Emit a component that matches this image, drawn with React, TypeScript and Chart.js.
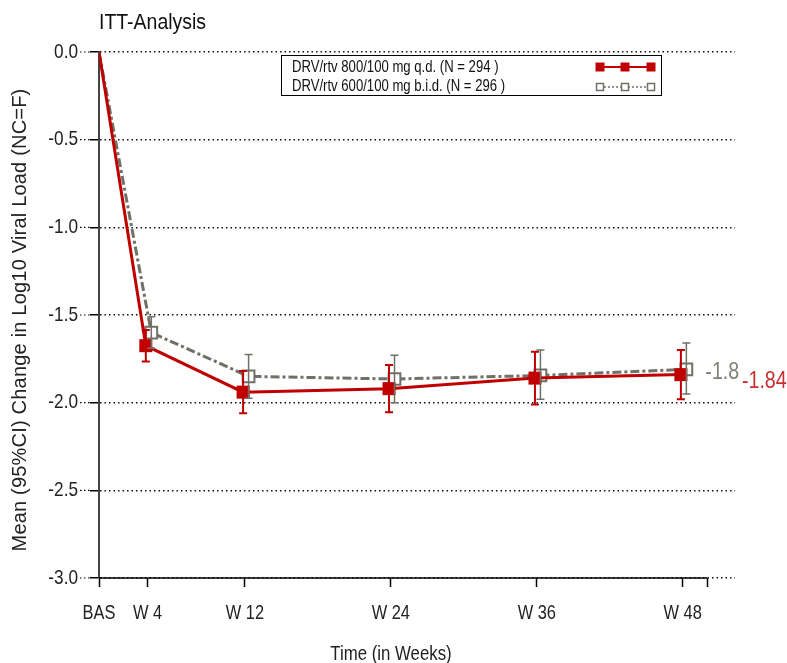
import React, { useEffect, useRef } from 'react';
import { Chart, registerables } from 'chart.js';

Chart.register(...registerables);

const FONT = '"Liberation Sans", Arial, Helvetica, sans-serif';

// ---- data ----
const weeks = [0, 4, 12, 24, 36, 48];
const weekLabels = ['BAS', 'W 4', 'W 12', 'W 24', 'W 36', 'W 48'];
const axisEndWeek = 50;

const qdLabel = 'DRV/rtv 800/100 mg q.d. (N = 294 )';
const qdMean = [0, -1.675, -1.94, -1.92, -1.86, -1.84];
const qdLower = [0, -1.765, -2.06, -2.055, -2.01, -1.98];
const qdUpper = [0, -1.585, -1.82, -1.785, -1.71, -1.70];

const bidLabel = 'DRV/rtv 600/100 mg b.i.d. (N = 296 )';
const bidMean = [0, -1.60, -1.85, -1.865, -1.845, -1.81];
const bidLower = [0, -1.69, -1.975, -2.0, -1.98, -1.95];
const bidUpper = [0, -1.51, -1.725, -1.73, -1.70, -1.66];

const endLabels = ['-1.84', '-1.8'];

const yTickValues = [0, -0.5, -1.0, -1.5, -2.0, -2.5, -3.0];

const RED = '#C00000';
const GRAY = '#707068';

const qdShift = -0.15;
const bidShift = 0.3;

function shiftX(w: number, s: number) {
  return w === 0 ? 0 : w + s;
}

// draws horizontally condensed text (the reference uses a narrow face)
function condText(
  ctx: CanvasRenderingContext2D,
  text: string,
  x: number,
  y: number,
  size: number,
  align: CanvasTextAlign,
  color: string,
  sx = 0.82,
  baseline: CanvasTextBaseline = 'middle'
) {
  ctx.save();
  ctx.translate(x, y);
  ctx.scale(sx, 1);
  ctx.font = `${size}px ${FONT}`;
  ctx.textAlign = align;
  ctx.textBaseline = baseline;
  ctx.fillStyle = color;
  ctx.fillText(text, 0, 0);
  ctx.restore();
}

const customPlugin = {
  id: 'customDraw',
  afterDatasetsDraw(chart: any) {
    const ctx = chart.ctx;
    const xs = chart.scales.x;
    const ys = chart.scales.y;
    const drawBars = (lo: number[], hi: number[], shift: number, color: string, lw: number) => {
      ctx.save();
      ctx.strokeStyle = color;
      ctx.lineWidth = lw;
      weeks.forEach((w, i) => {
        if (i === 0) return;
        const x = xs.getPixelForValue(shiftX(w, shift));
        const y1 = ys.getPixelForValue(lo[i]);
        const y2 = ys.getPixelForValue(hi[i]);
        ctx.beginPath();
        ctx.moveTo(x, y1);
        ctx.lineTo(x, y2);
        ctx.moveTo(x - 4, y1);
        ctx.lineTo(x + 4, y1);
        ctx.moveTo(x - 4, y2);
        ctx.lineTo(x + 4, y2);
        ctx.stroke();
      });
      ctx.restore();
    };
    drawBars(qdLower, qdUpper, qdShift, RED, 2);
    drawBars(bidLower, bidUpper, bidShift, GRAY, 1.5);
  },
  afterDraw(chart: any) {
    const ctx = chart.ctx;
    const xs = chart.scales.x;
    const ys = chart.scales.y;
    const area = chart.chartArea;
    ctx.save();

    // x axis solid line up to week 50
    ctx.strokeStyle = '#000';
    ctx.lineWidth = 1.5;
    ctx.beginPath();
    ctx.moveTo(xs.getPixelForValue(0), area.bottom);
    ctx.lineTo(xs.getPixelForValue(axisEndWeek), area.bottom);
    ctx.stroke();

    // dotted stubs left of y ticks
    ctx.setLineDash([1.5, 2.5]);
    ctx.lineWidth = 1.2;
    yTickValues.forEach((v) => {
      const y = ys.getPixelForValue(v);
      ctx.beginPath();
      ctx.moveTo(80, y);
      ctx.lineTo(area.left - 9, y);
      ctx.stroke();
    });
    ctx.setLineDash([]);

    // tick labels
    yTickValues.forEach((v) => {
      condText(ctx, v.toFixed(1), 78, ys.getPixelForValue(v), 21, 'right', '#222');
    });
    weeks.forEach((w, i) => {
      condText(ctx, weekLabels[i], xs.getPixelForValue(w), 613, 20, 'center', '#222');
    });

    // title
    condText(ctx, 'ITT-Analysis', 99, 28.5, 22, 'left', '#111', 0.885, 'alphabetic');

    // x title
    condText(ctx, 'Time (in Weeks)', 391, 654, 20, 'center', '#222', 0.84);

    // y title
    ctx.save();
    ctx.translate(20, 320);
    ctx.rotate(-Math.PI / 2);
    ctx.font = `20px ${FONT}`;
    ctx.textAlign = 'center';
    ctx.textBaseline = 'middle';
    ctx.fillStyle = '#222';
    (ctx as any).letterSpacing = '0.2px';
    ctx.fillText('Mean (95%CI) Change in Log10 Viral Load (NC=F)', 0, 0);
    ctx.restore();

    // end labels
    const lastI = weeks.length - 1;
    const gx = xs.getPixelForValue(shiftX(weeks[lastI], bidShift));
    const gy = ys.getPixelForValue(bidMean[lastI]);
    condText(ctx, endLabels[1], gx + 19, gy + 3, 24, 'left', '#808078');
    const rx = xs.getPixelForValue(shiftX(weeks[lastI], qdShift));
    const ry = ys.getPixelForValue(qdMean[lastI]);
    condText(ctx, endLabels[0], rx + 61, ry + 7, 24, 'left', '#C83030');

    // legend
    const lx = 281, ly = 55, lw = 380, lh = 40;
    ctx.fillStyle = '#fff';
    ctx.fillRect(lx, ly, lw, lh);
    ctx.strokeStyle = '#000';
    ctx.lineWidth = 1;
    ctx.strokeRect(lx + 0.5, ly + 0.5, lw, lh);
    condText(ctx, qdLabel, 292, 68, 16, 'left', '#111');
    condText(ctx, bidLabel, 292, 87, 16, 'left', '#111');
    const sx = [600, 625, 651];
    // red sample
    ctx.strokeStyle = RED;
    ctx.lineWidth = 2;
    ctx.beginPath();
    ctx.moveTo(sx[0], 67);
    ctx.lineTo(sx[2], 67);
    ctx.stroke();
    ctx.fillStyle = RED;
    sx.forEach((x) => ctx.fillRect(x - 4.5, 67 - 4.5, 9, 9));
    // gray sample
    ctx.strokeStyle = GRAY;
    ctx.lineWidth = 1.5;
    ctx.setLineDash([2, 2]);
    ctx.beginPath();
    ctx.moveTo(sx[0], 87);
    ctx.lineTo(sx[2], 87);
    ctx.stroke();
    ctx.setLineDash([]);
    sx.forEach((x) => {
      ctx.fillStyle = '#fff';
      ctx.fillRect(x - 3.5, 87 - 3.5, 7, 7);
      ctx.strokeRect(x - 3.5, 87 - 3.5, 7, 7);
    });

    ctx.restore();
  },
};

export default function App() {
  const ref = useRef<HTMLCanvasElement | null>(null);
  useEffect(() => {
    if (!ref.current) return;
    const chart = new Chart(ref.current, {
      type: 'line',
      data: {
        datasets: [
          {
            label: qdLabel,
            data: weeks.map((w, i) => ({ x: shiftX(w, qdShift), y: qdMean[i] })),
            borderColor: RED,
            backgroundColor: RED,
            borderWidth: 3,
            pointStyle: 'rect',
            pointRadius: weeks.map((w) => (w === 0 ? 0 : 9.2)),
            pointBorderWidth: 0,
            pointBackgroundColor: RED,
            tension: 0,
          },
          {
            label: bidLabel,
            data: weeks.map((w, i) => ({ x: shiftX(w, bidShift), y: bidMean[i] })),
            borderColor: GRAY,
            backgroundColor: '#fff',
            borderWidth: 3,
            borderDash: [9, 3, 3, 3],
            pointStyle: 'rect',
            pointRadius: weeks.map((w) => (w === 0 ? 0 : 8.3)),
            pointBorderWidth: 2,
            pointBorderColor: GRAY,
            pointBackgroundColor: '#fff',
            tension: 0,
          },
        ],
      },
      options: {
        responsive: false,
        animation: false,
        devicePixelRatio: 1,
        layout: { padding: { left: 0, top: 52, right: 52, bottom: 0 } },
        plugins: {
          legend: { display: false },
          tooltip: { enabled: false },
          title: { display: false },
        },
        scales: {
          x: {
            type: 'linear',
            min: 0,
            max: 52.3,
            afterFit: (s: any) => { s.height = 85; },
            afterBuildTicks: (s: any) => {
              s.ticks = [...weeks, axisEndWeek].map((v) => ({ value: v }));
            },
            ticks: {
              autoSkip: false,
              maxRotation: 0,
              callback: () => '',
            },
            grid: {
              drawOnChartArea: false,
              drawTicks: true,
              tickLength: 9,
              tickColor: '#000',
              tickWidth: 1.5,
            },
            border: { display: false },
          },
          y: {
            min: -3,
            max: 0,
            afterFit: (s: any) => { s.width = 99; },
            afterBuildTicks: (s: any) => {
              s.ticks = yTickValues.map((v) => ({ value: v }));
            },
            ticks: {
              callback: () => '',
            },
            grid: {
              color: '#111',
              lineWidth: 1.5,
              drawTicks: true,
              tickLength: 9,
              tickColor: '#000',
              tickWidth: 1.5,
              tickBorderDash: [],
            },
            border: { display: true, color: '#444', width: 2, dash: [1.5, 3] },
          },
        },
      },
      plugins: [customPlugin],
    });
    return () => chart.destroy();
  }, []);
  return (
    <div style={{ position: 'absolute', left: 0, top: 0 }}>
      <canvas ref={ref} width={787} height={663} style={{ display: 'block' }} />
    </div>
  );
}
